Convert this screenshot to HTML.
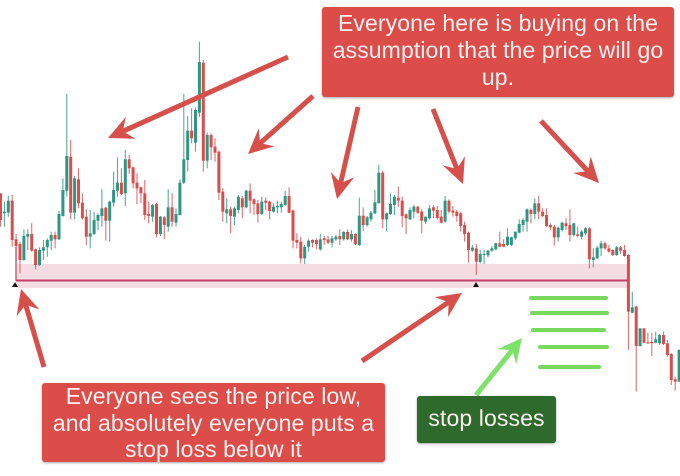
<!DOCTYPE html>
<html lang="en">
<head>
<meta charset="utf-8">
<title>Stop loss liquidity chart</title>
<style>
html,body{margin:0;padding:0;background:#fff;}
#stage{position:relative;width:680px;height:476px;overflow:hidden;background:#fff;font-family:"Liberation Sans",sans-serif;}
#chart{position:absolute;left:0;top:0;}
.callout{position:absolute;box-sizing:border-box;color:#fbf1f0;text-align:center;font-size:23px;line-height:27px;letter-spacing:.1px;border-radius:3px;box-shadow:0 1px 2px rgba(0,0,0,.35);white-space:nowrap;}
.red{background:#dc4c48;}
.green{background:#2d6a2b;}
</style>
</head>
<body>
<div id="stage">
<svg id="chart" width="680" height="476" viewBox="0 0 680 476" xmlns="http://www.w3.org/2000/svg">
  <defs>
    <filter id="soft" x="-2%" y="-2%" width="104%" height="104%"><feGaussianBlur stdDeviation="0.3"/></filter>
  </defs>
  <rect x="16" y="264" width="612" height="24" fill="#f6dde4"/>
  <g id="candles" filter="url(#soft)"></g>
  <line x1="16" y1="247" x2="16" y2="281" stroke="#cf5a72" stroke-width="1.4"/>
  <line x1="16" y1="280.5" x2="628" y2="280.5" stroke="#c43f6c" stroke-width="2"/>
  <polygon points="15,282 12,287 18,287" fill="#111"/>
  <polygon points="476,282 473,287 479,287" fill="#111"/>
  <g id="stops">
    <line x1="531" y1="298" x2="606" y2="298"/>
    <line x1="532" y1="313" x2="607" y2="313"/>
    <line x1="533" y1="330" x2="604" y2="330"/>
    <line x1="540" y1="347" x2="607" y2="347"/>
    <line x1="540" y1="367" x2="599" y2="367"/>
  </g>
  <g id="arrows"></g>
</svg>
<div class="callout red" style="left:322px;top:7px;width:352px;height:90px;padding-top:3px;">Everyone here is buying on the<br>assumption that the price will go<br>up.</div>
<div class="callout red" style="left:42px;top:383px;width:343px;height:79px;line-height:26.7px;">Everyone sees the price low,<br>and absolutely everyone puts a<br>stop loss below it</div>
<div class="callout green" style="left:417px;top:396px;width:139px;height:47px;line-height:45px;">stop losses</div>
</div>
<script>
const opens=[710,650,652,688,572,558,510,580,588,542,495,538,548,568,585,572,642,718,820,652,752,682,640,580,588,628,642,667,628,682,718,742,710,812,788,742,728,710,648,640,678,588,638,610,668,622,645,742,810,898,862,952,1102,808,885,850,835,
715,650,662,640,660,695,668,718,692,680,648,688,685,655,668,668,675,702,658,570,565,515,550,570,570,542,575,572,562,572,582,572,594,572,588,555,643,615,632,650,680,772,632,648,675,697,688,647,632,655,670,655,625,635,668,660,640,
625,688,658,655,650,615,592,538,545,504,525,524,538,542,560,558,555,555,575,592,615,625,660,648,680,655,645,615,610,578,600,620,615,585,587,580,590,605,510,515,545,560,545,540,525,548,540,525,352,370,252,305,263,264,262,260,285,260,228,152,145];
const highs=[710,685,703,705,588,565,602,602,620,545,548,570,575,595,595,658,755,1008,870,762,785,710,662,660,655,650,722,670,688,775,818,785,840,825,790,770,730,750,685,678,682,642,642,722,710,665,752,1008,942,965,968,1165,1110,892,890,875,838,
725,695,670,670,705,702,720,740,695,690,700,698,688,680,688,685,718,728,662,590,580,555,572,572,575,588,582,582,582,585,602,597,602,600,590,697,668,642,657,720,795,778,652,710,705,730,700,650,668,675,672,662,640,675,675,672,660,
702,692,672,660,655,625,595,555,558,540,540,540,552,562,595,572,605,580,595,632,635,665,665,695,702,665,665,620,615,610,625,635,662,622,610,600,608,608,545,552,568,565,555,542,552,552,555,528,415,372,305,305,292,292,295,288,295,270,230,160,242];
const lows=[610,610,640,550,500,470,508,540,535,482,492,510,520,540,545,570,640,700,632,632,665,632,555,545,585,600,610,568,565,670,700,705,672,768,725,678,680,630,620,625,578,582,572,595,610,610,644,738,775,860,835,938,775,785,810,805,690,
625,620,590,615,650,635,665,650,645,622,645,660,632,652,650,652,672,650,545,545,500,498,535,548,542,538,555,558,548,568,555,568,570,565,555,552,597,610,625,648,680,605,597,645,645,670,608,588,630,635,648,590,618,632,635,632,620,
622,650,640,625,595,565,502,535,465,500,498,518,535,540,548,548,552,552,570,590,595,595,620,632,632,638,608,600,553,565,595,600,565,580,578,572,585,485,488,513,522,540,532,522,522,528,520,240,350,115,250,260,258,222,260,255,255,220,135,118,145];
const closes=[630,655,688,570,552,510,582,588,538,495,540,548,570,585,572,648,720,822,652,755,680,635,580,590,630,645,665,628,685,720,742,708,812,785,740,725,710,645,642,675,588,640,615,668,625,648,742,812,898,875,960,1104,808,885,848,832,712,
655,662,642,665,700,668,718,688,678,648,685,682,657,670,672,678,702,652,568,562,515,550,568,562,558,572,570,562,575,580,572,594,572,588,558,643,615,638,652,683,772,632,650,678,700,688,642,635,660,670,652,628,640,665,658,636,622,
688,655,652,642,612,588,540,547,505,528,528,538,545,560,550,550,580,578,595,618,630,662,648,680,655,642,612,608,578,607,622,612,585,620,582,595,605,512,518,547,560,545,535,525,548,538,522,355,368,252,305,262,260,260,272,285,258,225,150,145,240];

const stepX=3.9, startX=0.5, bodyW=3;
const xScale=function(i){return startX+stepX*i;};
const yScale=function(v){return 430-v/3;};
const SVGNS='http://www.w3.org/2000/svg';
const candlesG=document.getElementById('candles');
opens.forEach(function(o,i){
  const c=closes[i], up=c>=o, col=up?'#2f9682':'#da4d4e', x=xScale(i);
  const g=document.createElementNS(SVGNS,'g');
  
  
  const w=document.createElementNS(SVGNS,'line');
  
  
  w.setAttribute('x1',x);w.setAttribute('x2',x);
  w.setAttribute('y1',yScale(highs[i]));w.setAttribute('y2',yScale(lows[i]));
  w.setAttribute('stroke',col);w.setAttribute('stroke-width','1.1');w.setAttribute('stroke-opacity','.8');
  const b=document.createElementNS(SVGNS,'rect');
  
  
  const top=yScale(Math.max(o,c)), bot=yScale(Math.min(o,c));
  b.setAttribute('x',x-bodyW/2);b.setAttribute('width',bodyW);
  b.setAttribute('y',top);b.setAttribute('height',Math.max(bot-top,1));
  b.setAttribute('fill',col);
  g.appendChild(w);g.appendChild(b);candlesG.appendChild(g);
});

document.querySelectorAll('#stops line').forEach(function(l){
  l.setAttribute('stroke','#79d95c');
  l.setAttribute('stroke-width','4');
  l.setAttribute('stroke-linecap','round');
});

const arrowsG=document.getElementById('arrows');
function arrow(x1,y1,x2,y2,col,name,th,hl,hw){
  const dx=x2-x1,dy=y2-y1,len=Math.hypot(dx,dy),ux=dx/len,uy=dy/len,nx=-uy,ny=ux;
  const bx=x2-ux*hl,by=y2-uy*hl,mx=x2-ux*(hl*0.72),my=y2-uy*(hl*0.72);
  const p=document.createElementNS(SVGNS,'polygon');
  
  
  const pts=[[x1+nx*th/2,y1+ny*th/2],[mx+nx*th/2,my+ny*th/2],[bx+nx*hw,by+ny*hw],[x2,y2],[bx-nx*hw,by-ny*hw],[mx-nx*th/2,my-ny*th/2],[x1-nx*th/2,y1-ny*th/2]];
  p.setAttribute('points',pts.map(function(q){return q[0].toFixed(1)+','+q[1].toFixed(1);}).join(' '));
  p.setAttribute('fill',col);
  arrowsG.appendChild(p);
}
const R='#d64f4b', G='#7fe268';
arrow(288,57,108,138,R,'arrow-to-peak-1',5,25,12);
arrow(313,96,248,154,R,'arrow-to-peak-2',5,25,12);
arrow(358,107,337,199,R,'arrow-to-range',5,25,12);
arrow(433,109,463,184,R,'arrow-to-pullback',5,25,12);
arrow(541,121,599,183,R,'arrow-to-top',5,25,12);
arrow(44,367,21,289,R,'arrow-to-low-left',5,25,12);
arrow(362,361,462,293,R,'arrow-to-low-right',5,25,12);
arrow(476,395,522,338,G,'arrow-to-stops',5,24,12);
</script>
</body>
</html>
